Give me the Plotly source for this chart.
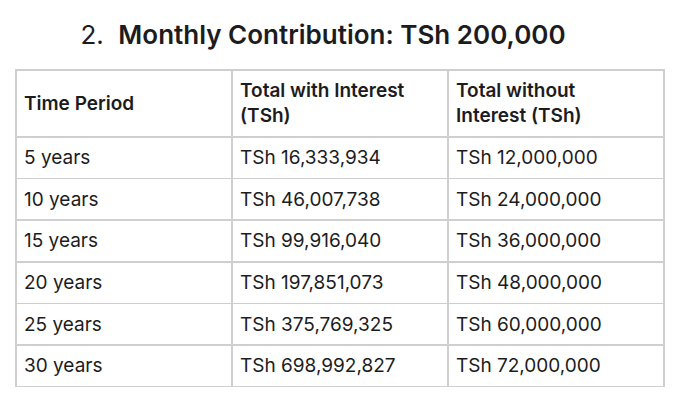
import plotly.graph_objects as go

headers = ["Time Period", "Total with Interest<br>(TSh)", "Total without<br>Interest (TSh)"]
periods = ["5 years", "10 years", "15 years", "20 years", "25 years", "30 years"]
with_interest = ["TSh 16,333,934", "TSh 46,007,738", "TSh 99,916,040",
                 "TSh 197,851,073", "TSh 375,769,325", "TSh 698,992,827"]
without_interest = ["TSh 12,000,000", "TSh 24,000,000", "TSh 36,000,000",
                    "TSh 48,000,000", "TSh 60,000,000", "TSh 72,000,000"]

W, H = 680, 406
font = "Inter, Roboto, sans-serif"
ink = "#1c1c1e"
grid = "#cfcfcf"
clear = "rgba(0,0,0,0)"
fs = 19
semi = "<span style='font-weight:600'>%s</span>"

# table box in pixels (left, right, top)
x0, x1, top = 8, 656, 62
hdr_h, row_h = 67, 41.6


def dom(xa, xb, y):
    return dict(x=[xa / W, xb / W], y=[0, 1 - y / H])


fig = go.Figure()

# grid only
fig.add_trace(go.Table(
    domain=dom(x0, x1, top),
    header=dict(values=["", "", ""], height=hdr_h, fill_color="white",
                line_color=grid, line_width=1.5),
    cells=dict(values=[[""] * len(periods)] * 3, height=row_h, fill_color="white",
               line_color=grid, line_width=1.5),
))

# body text, pushed down to sit mid-row
dy_cells = 5
fig.add_trace(go.Table(
    domain=dom(x0, x1, top + dy_cells),
    header=dict(values=["", "", ""], height=hdr_h, fill_color=clear, line_color=clear),
    cells=dict(values=[periods, with_interest, without_interest], align="left",
               height=row_h, fill_color=clear, line_color=clear,
               font=dict(family=font, size=fs, color=ink)),
))

# two-line header text
dy_hdr = 1
fig.add_trace(go.Table(
    domain=dom(x0, x1, top + dy_hdr),
    header=dict(values=[""] + [semi % h for h in headers[1:]], align="left",
                height=hdr_h, fill_color=clear, line_color=clear,
                font=dict(family=font, size=fs, color=ink)),
    cells=dict(values=[[], [], []], fill_color=clear, line_color=clear),
))

# single-line header, centred vertically (trailing <br> stops auto-wrapping)
cw = (x1 - x0) / 3
fig.add_trace(go.Table(
    domain=dom(x0, x0 + cw, top + dy_hdr + 12.5),
    header=dict(values=[semi % headers[0] + "<br>"], align="left", height=hdr_h,
                fill_color=clear, line_color=clear,
                font=dict(family=font, size=fs, color=ink)),
    cells=dict(values=[[]], fill_color=clear, line_color=clear),
))

fig.update_layout(
    width=W, height=H,
    margin=dict(l=0, r=0, t=0, b=0),
    paper_bgcolor="white",
    title=dict(
        text="2.  " + semi % "Monthly Contribution: TSh 200,000",
        x=315 / W, xanchor="center",
        y=1 - 27 / H, yanchor="middle",
        font=dict(family=font, size=26, color=ink),
    ),
)

fig.write_html("out.html")
